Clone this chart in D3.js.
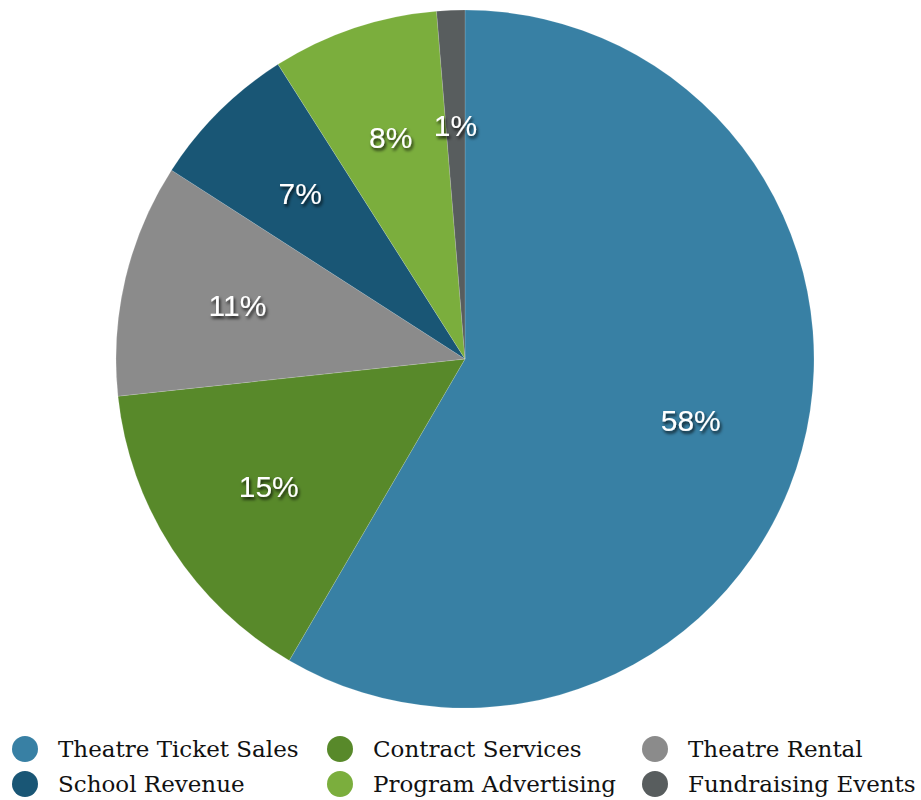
<!DOCTYPE html>
<html>
<head>
<meta charset="utf-8">
<script src="https://cdn.jsdelivr.net/npm/d3@7"></script>
<style>
  body { margin: 0; background: #fff; }
  .lbl { font-family: "Liberation Sans", Arial, sans-serif; font-size: 30px; fill: #fff; }
  .leg { font-family: "DejaVu Serif", serif; font-size: 23px; fill: #111; }
</style>
</head>
<body>
<svg id="chart" width="921" height="800"></svg>
<script>
// slice data, clockwise from 12 o'clock
const categories = ["Theatre Ticket Sales", "Contract Services", "Theatre Rental", "School Revenue", "Program Advertising", "Fundraising Events"];
const values = [58.4, 14.9, 10.8, 6.9, 7.7, 1.3];
const labels = ["58%", "15%", "11%", "7%", "8%", "1%"];
const colors = ["#3880a4", "#58892a", "#8b8b8b", "#195675", "#7bae3d", "#585d5e"];

const svg = d3.select("#chart");
const cx = 465, cy = 359, radius = 349;

const defs = svg.append("defs");
const f = defs.append("filter").attr("id", "shadow")
    .attr("x", "-20%").attr("y", "-20%").attr("width", "140%").attr("height", "150%");
f.append("feDropShadow").attr("dx", 1.5).attr("dy", 2.5).attr("stdDeviation", 1.5)
    .attr("flood-color", "#000").attr("flood-opacity", 0.8);

const pie = d3.pie().sort(null).value(d => d);
const arc = d3.arc().innerRadius(0).outerRadius(radius);
const labelArc = d3.arc().innerRadius(radius * 0.67).outerRadius(radius * 0.67);

const g = svg.append("g").attr("transform", `translate(${cx},${cy})`);

const arcs = pie(values);

g.selectAll("path")
  .data(arcs)
  .enter().append("path")
    .attr("d", arc)
    .attr("fill", (d, i) => colors[i])
    .attr("stroke", "rgba(255,255,255,0.25)")
    .attr("stroke-width", 0.6);

g.selectAll("text")
  .data(arcs)
  .enter().append("text")
    .attr("class", "lbl")
    .attr("transform", d => `translate(${labelArc.centroid(d)})`)
    .attr("dy", "0.36em")
    .attr("text-anchor", "middle")
    .attr("filter", "url(#shadow)")
    .text((d, i) => labels[i]);

// legend, 3 columns x 2 rows
const leg = svg.append("g");
const colX = [25, 340, 655], rowY = [749, 784];
categories.forEach((c, i) => {
  const x = colX[i % 3], y = rowY[Math.floor(i / 3)];
  leg.append("circle").attr("cx", x).attr("cy", y).attr("r", 13).attr("fill", colors[[0, 1, 2, 3, 4, 5][i]]);
  leg.append("text").attr("class", "leg").attr("x", x + 33).attr("y", y).attr("dy", "0.35em").text(c);
});
</script>
</body>
</html>
